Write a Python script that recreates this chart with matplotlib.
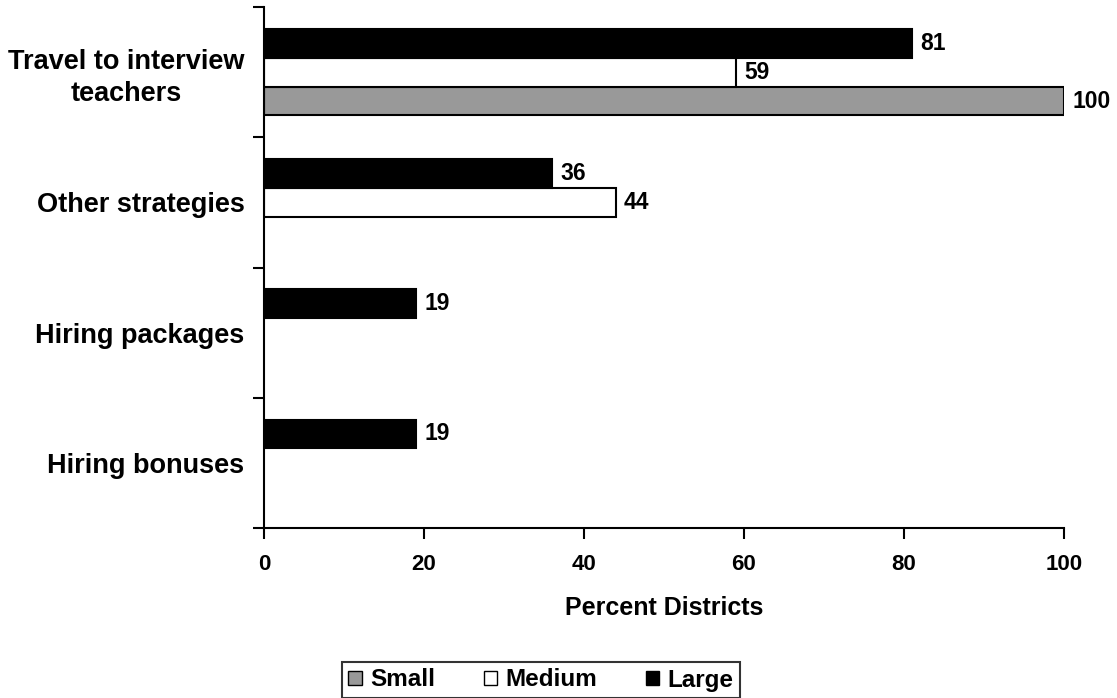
import numpy as np
import matplotlib
matplotlib.use("Agg")
import matplotlib.pyplot as plt
from matplotlib.patches import Patch

plt.rcParams["font.family"] = ["Liberation Sans", "DejaVu Sans"]
plt.rcParams["font.weight"] = "bold"

# data (top to bottom)
categories = ["Travel to interview\nteachers", "Other strategies",
              "Hiring packages", "Hiring bonuses"]
small = np.array([100, 0, 0, 0])
medium = np.array([59, 44, 0, 0])
large = np.array([81, 36, 19, 19])
series = [("Small", small, "#999999"), ("Medium", medium, "white"),
          ("Large", large, "black")]

fig = plt.figure(figsize=(11.17, 6.98), dpi=100)
ax = fig.add_axes([264/1117, 1 - 528/698, 800/1117, 521/698])

ypos = np.arange(len(categories))[::-1].astype(float)
h = 0.222
offsets = {"Small": -h, "Medium": 0.0, "Large": h}

for name, vals, col in series:
    m = vals > 0
    yy = ypos[m] + offsets[name]
    ax.barh(yy, vals[m], height=h, color=col, edgecolor="black", linewidth=1.5)
    for y, v in zip(yy, vals[m]):
        ax.text(v + 1.0, y, f"{v}", va="center", ha="left",
                fontsize=16.5, fontweight="bold")

ax.set_xlim(0, 100)
ax.set_ylim(-0.5, len(categories) - 0.5)
ax.set_xticks(np.arange(0, 101, 20))
ax.tick_params(axis="x", labelsize=16, width=1.5, length=8, pad=11)
ax.set_yticks(np.arange(-0.5, len(categories)), labels=[])
ax.tick_params(axis="y", which="major", width=1.5, length=8)
ax.set_yticks(ypos, labels=categories, minor=True)
ax.tick_params(axis="y", which="minor", length=0, pad=14, labelsize=19.5)
for lbl in ax.get_yticklabels(minor=True):
    lbl.set_multialignment("center")
    lbl.set_fontweight("bold")
    lbl.set_linespacing(1.3)
for lbl in ax.get_xticklabels():
    lbl.set_fontweight("bold")

ax.set_xlabel("Percent Districts", fontsize=18, fontweight="bold", labelpad=15)
for s in ["top", "right"]:
    ax.spines[s].set_visible(False)
for s in ["left", "bottom"]:
    ax.spines[s].set_linewidth(1.5)

handles = [Patch(facecolor=c, edgecolor="black", label=n) for n, _, c in series]
leg = fig.legend(handles=handles, loc="center", bbox_to_anchor=(541/1117, 1 - 680/698),
                 ncol=3, fontsize=17.5, frameon=True, fancybox=False,
                 handlelength=0.55, handleheight=0.55, handletextpad=0.35,
                 columnspacing=2.0, borderpad=0.25)
leg.get_frame().set_edgecolor("black")
leg.get_frame().set_linewidth(1.5)
for t in leg.get_texts():
    t.set_fontweight("bold")

fig.savefig("out.png", dpi=100)
